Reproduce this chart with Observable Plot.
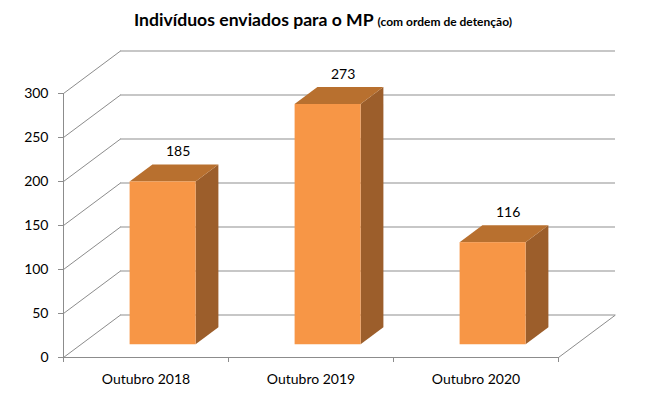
<!DOCTYPE html>
<html><head><meta charset="utf-8">
<script src="https://cdn.jsdelivr.net/npm/d3@7"></script>
<script src="https://cdn.jsdelivr.net/npm/@observablehq/plot@0.6"></script>
<style>
body{margin:0;background:#fff;font-family:Lato,sans-serif;}
#title{box-sizing:border-box;height:40px;width:646px;padding-top:10px;line-height:20px;text-align:center;color:#000;font-weight:bold;white-space:nowrap;}
#title .main{font-size:17.6px;}
#title .sub{font-size:12px;}
#chart svg{display:block;}
</style></head><body>
<div id="title"><span class="main">Indivíduos enviados para o MP</span> <span class="sub">(com ordem de detenção)</span></div>
<div id="chart"></div>
<script>
// ---- data ----
const categories = ["Outubro 2018", "Outubro 2019", "Outubro 2020"];
const values = [185, 273, 116];
const yTicks = [0, 50, 100, 150, 200, 250, 300];

// ---- layout / style ----
const W = 646, H = 355, mL = 63, mR = 88, mT = 53, mB = 38;
const yMax = 300;
const pxPerX = (W - mL - mR) / categories.length;  // px per category band
const pxPerY = (H - mT - mB) / yMax;                // px per unit
const wallDepthPx = [57, 42.5];                     // oblique depth of the 3D box
const DX = wallDepthPx[0] / pxPerX;                 // depth in x data units
const DY = wallDepthPx[1] / pxPerY;                 // depth in y data units
const f0 = 0.3, f1 = 0.7;                           // bar front/back depth fraction
const inset = 0.3;                                  // bar inset within band
const gridColor = "#b4b4b4", axisColor = "#8c8c8c";
const cFront = "#f79646", cTop = "#b8702f", cSide = "#9c5e2b";

const bars = values.map((v, i) => ({i, v, xL: i + inset, xR: i + 1 - inset}));
const front = bars.map(b => ({x1: b.xL + f0 * DX, x2: b.xR + f0 * DX, y1: f0 * DY, y2: b.v + f0 * DY}));
const side = bars.flatMap(b => [f0, f1].map(f => ({i: b.i, x: b.xR + f * DX, y1: f * DY, y2: b.v + f * DY})));
const topF = bars.flatMap(b => [f0, f1].map(f => ({i: b.i, y: b.v + f * DY, x1: b.xL + f * DX, x2: b.xR + f * DX})));
const n = categories.length;

const chart = Plot.plot({
  width: W, height: H,
  marginLeft: mL, marginRight: mR, marginTop: mT, marginBottom: mB,
  x: {domain: [0, n]},
  y: {domain: [0, yMax]},
  style: {fontFamily: "Lato, sans-serif", fontSize: "14px", color: "#000", background: "#fff", overflow: "visible"},
  marks: [
    // back wall gridlines
    Plot.ruleY(yTicks, {y: d => d + DY, x1: DX, x2: n + DX, stroke: gridColor, strokeWidth: 1.5}),
    // side wall obliques
    Plot.link(yTicks, {x1: 0, y1: d => d, x2: DX, y2: d => d + DY, stroke: axisColor, strokeWidth: 1}),
    // floor right edge
    Plot.link([0], {x1: n, y1: 0, x2: n + DX, y2: DY, stroke: axisColor, strokeWidth: 1}),
    // front axis lines
    Plot.ruleX([0], {y1: 0, y2: yMax, stroke: axisColor}),
    Plot.ruleY([0], {x1: 0, x2: n, stroke: axisColor}),
    Plot.axisY(yTicks, {tickSize: 5, tickPadding: 10, stroke: axisColor, fill: "#000", fontSize: 14, label: null}),
    Plot.axisX(d3.range(n + 1), {tickSize: 5, tickFormat: () => "", stroke: axisColor, label: null}),
    Plot.axisX(d3.range(n).map(i => i + 0.5), {tickSize: 0, tickPadding: 17, tickFormat: d => categories[Math.floor(d)], fill: "#000", fontSize: 14, label: null}),
    // bars
    Plot.areaY(side, {x: "x", y1: "y1", y2: "y2", z: "i", fill: cSide}),
    Plot.areaX(topF, {y: "y", x1: "x1", x2: "x2", z: "i", fill: cTop}),
    Plot.rect(front, {x1: "x1", x2: "x2", y1: "y1", y2: "y2", fill: cFront}),
    // value labels
    Plot.text(bars, {x: b => b.i + 0.5 + f0 * DX, y: b => b.v + f1 * DY, text: b => String(b.v), dx: 15, dy: -13, fontSize: 14, fill: "#000", lineAnchor: "middle"})
  ]
});
document.getElementById("chart").appendChild(chart);
</script>
</body></html>
